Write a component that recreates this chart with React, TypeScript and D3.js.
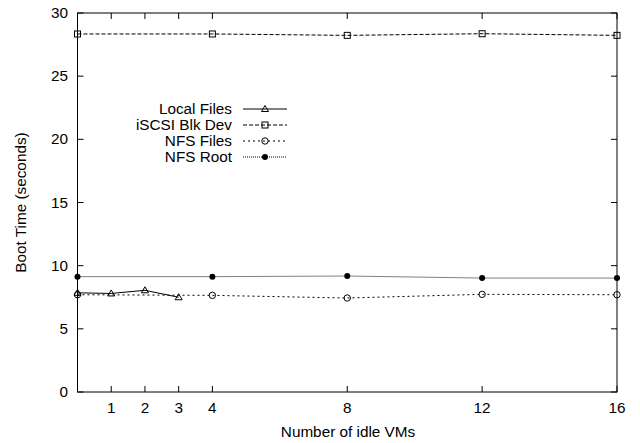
import React from "react";
import * as d3 from "d3";

const xTicks = [1, 2, 3, 4, 8, 12, 16];
const yTicks = [0, 5, 10, 15, 20, 25, 30];

const localX = [0, 1, 2, 3];
const localY = [7.85, 7.8, 8.05, 7.5];
const vmX = [0, 4, 8, 12, 16];
const iscsiY = [28.34, 28.34, 28.23, 28.36, 28.23];
const nfsFilesY = [7.7, 7.65, 7.44, 7.73, 7.7];
const nfsRootY = [9.13, 9.13, 9.18, 9.02, 9.02];

const seriesNames = ["Local Files", "iSCSI Blk Dev", "NFS Files", "NFS Root"];

const W = 640, H = 443;
const M = { left: 77.5, right: 617, top: 13, bottom: 392 };
const FONT = "'Liberation Sans', Arial, Helvetica, sans-serif";
const FS = 15.3;

export default function App() {
  const x = d3.scaleLinear().domain([0, 16]).range([M.left, M.right]);
  const y = d3.scaleLinear().domain([0, 30]).range([M.bottom, M.top]);
  const line = d3.line<[number, number]>().x(d => x(d[0])).y(d => y(d[1]));

  const series = [
    { name: seriesNames[0], xs: localX, ys: localY, dash: undefined, marker: "tri", color: "#000" },
    { name: seriesNames[1], xs: vmX, ys: iscsiY, dash: "4,2", marker: "sq", color: "#000" },
    { name: seriesNames[2], xs: vmX, ys: nfsFilesY, dash: "2,3", marker: "circ", color: "#000" },
    { name: seriesNames[3], xs: vmX, ys: nfsRootY, dash: "1,1", marker: "dot", color: "#000" },
  ];

  const marker = (m: string, cx: number, cy: number, key: string | number) => {
    if (m === "tri") {
      return <path key={key} d={`M${cx},${cy - 3.5}L${cx + 3.5},${cy + 2.5}L${cx - 3.5},${cy + 2.5}Z`} fill="none" stroke="#000" strokeWidth={1} />;
    }
    if (m === "sq") {
      return <rect key={key} x={cx - 3} y={cy - 3} width={6} height={6} fill="none" stroke="#000" strokeWidth={1} />;
    }
    if (m === "circ") {
      return <circle key={key} cx={cx} cy={cy} r={3.2} fill="none" stroke="#000" strokeWidth={1} />;
    }
    return <circle key={key} cx={cx} cy={cy} r={3} fill="#000" />;
  };

  const legendY = [109, 125, 141, 157];
  const legTextX = 232;
  const legL = 243, legR = 287;

  return (
    <svg width={W} height={H} style={{ position: "absolute", left: 0, top: 0, background: "#fff" }} fontFamily={FONT}>
      <rect width={W} height={H} fill="#fff" />
      {yTicks.map(t => (
        <g key={"y" + t}>
          <line x1={M.left} x2={M.left + 6} y1={y(t)} y2={y(t)} stroke="#000" />
          <line x1={M.right} x2={M.right - 6} y1={y(t)} y2={y(t)} stroke="#000" />
          <text x={68} y={y(t) + 5} textAnchor="end" fontSize={FS}>{t}</text>
        </g>
      ))}
      {xTicks.map(t => (
        <g key={"x" + t}>
          <line x1={x(t)} x2={x(t)} y1={M.bottom} y2={M.bottom - 6} stroke="#000" />
          <line x1={x(t)} x2={x(t)} y1={M.top} y2={M.top + 6} stroke="#000" />
          <text x={x(t)} y={413} textAnchor="middle" fontSize={FS}>{t}</text>
        </g>
      ))}
      {series.map((s) => (
        <g key={s.name}>
          <path d={line(s.xs.map((v, j) => [v, s.ys[j]]) as [number, number][]) || ""} fill="none" stroke={s.color} strokeWidth={1} strokeDasharray={s.dash} />
          {s.xs.map((v, j) => marker(s.marker, x(v), y(s.ys[j]), j))}
        </g>
      ))}
      <rect x={M.left} y={M.top} width={M.right - M.left} height={M.bottom - M.top} fill="none" stroke="#000" strokeWidth={1} />
      {series.map((s, i) => (
        <g key={"leg" + i}>
          <text x={legTextX} y={legendY[i] + 5} textAnchor="end" fontSize={FS}>{s.name}</text>
          <line x1={legL} x2={legR} y1={legendY[i]} y2={legendY[i]} stroke="#000" strokeWidth={1} strokeDasharray={s.dash} />
          {marker(s.marker, (legL + legR) / 2, legendY[i], "m")}
        </g>
      ))}
      <text x={348} y={437} textAnchor="middle" fontSize={FS}>Number of idle VMs</text>
      <text transform={`translate(26,${(M.top + M.bottom) / 2}) rotate(-90)`} textAnchor="middle" fontSize={FS}>Boot Time (seconds)</text>
    </svg>
  );
}
